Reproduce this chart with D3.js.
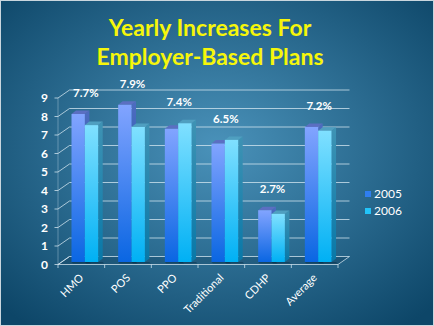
<!DOCTYPE html>
<html>
<head>
<meta charset="utf-8">
<script src="https://cdn.jsdelivr.net/npm/d3@7"></script>
<style>
  html, body { margin: 0; padding: 0; background: #0f4a6c; }
  svg { display: block; }
</style>
</head>
<body>
<svg id="chart"></svg>
<script>
// chart data
const categories = ["HMO", "POS", "PPO", "Traditional", "CDHP", "Average"];
const series = ["2005", "2006"];
const values2005 = [8.0, 8.5, 7.2, 6.4, 2.8, 7.3];
const values2006 = [7.4, 7.3, 7.5, 6.6, 2.6, 7.1];
const labelValues = [7.7, 7.9, 7.4, 6.5, 2.7, 7.2];
const yTicks = [0, 1, 2, 3, 4, 5, 6, 7, 8, 9];
const titleLines = ["Yearly Increases For", "Employer-Based Plans"];

const W = 434, H = 326;
const svg = d3.select("#chart").attr("width", W).attr("height", H);

// front plane of the box, and the depth shift to the back wall
const frontX = 58, frontY0 = 264.5, plotW = 280, plotH = 166.5;
const depthX = 11.5, depthY = -8;

let x = d3.scaleBand().domain(categories).range([0, plotW]);
let xs = d3.scaleBand().domain(series).range([10, 36.7]);
let y = d3.scaleLinear().domain([0, 9]).range([0, plotH]);

const defs = svg.append("defs");

let bg = defs.append("radialGradient").attr("id", "bg")
  .attr("cx", "50%").attr("cy", "45%").attr("r", "70%");
bg.append("stop").attr("offset", "0%").attr("stop-color", "#4a92ba");
bg.append("stop").attr("offset", "100%").attr("stop-color", "#0d4668");

function linGrad(id, top, bottom) {
  let g = defs.append("linearGradient").attr("id", id)
    .attr("x1", 0).attr("y1", 0).attr("x2", 0).attr("y2", 1);
  g.append("stop").attr("offset", "0%").attr("stop-color", top);
  g.append("stop").attr("offset", "100%").attr("stop-color", bottom);
}
linGrad("front2005", "#82a4ff", "#0a66e2");
linGrad("front2006", "#80e0ff", "#00b0f4");
linGrad("side2005", "#4e6cc0", "#0a4fa8");
linGrad("side2006", "#3f93b4", "#0878a8");

svg.append("rect").attr("width", W).attr("height", H).attr("fill", "url(#bg)");
svg.append("rect").attr("x", 0.5).attr("y", 0.5).attr("width", W - 1).attr("height", H - 1)
  .attr("fill", "none").attr("stroke", "#c9d6de").attr("stroke-width", 1);

// title
svg.append("g").selectAll("text").data(titleLines).join("text")
  .attr("x", 210).attr("y", (d, i) => 36 + i * 29)
  .attr("text-anchor", "middle")
  .attr("font-family", "Lato, 'Open Sans', sans-serif")
  .attr("font-weight", 700).attr("font-size", 23)
  .attr("fill", "#f6f60a")
  .text(d => d);

const gridColor = "rgba(215,232,242,0.75)";

// floor
let floorPts = [
  [frontX, frontY0], [frontX + plotW, frontY0],
  [frontX + plotW + depthX, frontY0 + depthY], [frontX + depthX, frontY0 + depthY]
];
svg.append("path").attr("d", d3.line()(floorPts) + "Z")
  .attr("fill", "rgba(10,50,80,0.25)").attr("stroke", gridColor).attr("stroke-width", 1);

// back wall gridlines + left wall slants
let grid = svg.append("g");
grid.selectAll("line.back").data(yTicks.filter(d => d > 0)).join("line")
  .attr("class", "back")
  .attr("x1", frontX + depthX).attr("x2", frontX + depthX + plotW)
  .attr("y1", d => frontY0 + depthY - y(d)).attr("y2", d => frontY0 + depthY - y(d))
  .attr("stroke", gridColor).attr("stroke-width", 1);
grid.selectAll("line.side").data(yTicks).join("line")
  .attr("class", "side")
  .attr("x1", frontX).attr("x2", frontX + depthX)
  .attr("y1", d => frontY0 - y(d)).attr("y2", d => frontY0 + depthY - y(d))
  .attr("stroke", gridColor).attr("stroke-width", 1);
grid.selectAll("line.tick").data(yTicks).join("line")
  .attr("class", "tick")
  .attr("x1", frontX - 3.5).attr("x2", frontX)
  .attr("y1", d => frontY0 - y(d)).attr("y2", d => frontY0 - y(d))
  .attr("stroke", gridColor).attr("stroke-width", 1);
grid.append("line")
  .attr("x1", frontX).attr("x2", frontX).attr("y1", frontY0).attr("y2", frontY0 - y(9))
  .attr("stroke", "rgba(215,232,242,0.35)").attr("stroke-width", 1);
// x ticks on the front floor edge
grid.selectAll("line.xtick").data(d3.range(categories.length + 1)).join("line")
  .attr("class", "xtick")
  .attr("x1", i => frontX + i * x.bandwidth()).attr("x2", i => frontX + i * x.bandwidth())
  .attr("y1", frontY0).attr("y2", frontY0 + 3.5)
  .attr("stroke", gridColor).attr("stroke-width", 1);

// y tick labels
svg.append("g").selectAll("text").data(yTicks).join("text")
  .attr("x", 48).attr("y", d => frontY0 - y(d) + 4)
  .attr("text-anchor", "end")
  .attr("font-family", "Lato, sans-serif").attr("font-weight", 700).attr("font-size", 12)
  .attr("fill", "#ffffff")
  .text(d => d);

// bars (drawn as boxes standing in the middle of the floor depth)
const barDX = 3.5, barDY = -2.5;    // front face offset from front plane
const sideDX = 4.5, sideDY = -3.5;  // box depth
let bars = [];
categories.forEach((c, i) => {
  bars.push({ cat: c, s: "2005", v: values2005[i] });
  bars.push({ cat: c, s: "2006", v: values2006[i] });
});

let barG = svg.append("g").selectAll("g").data(bars).join("g");
barG.each(function (d) {
  let g = d3.select(this);
  let x0 = frontX + barDX + x(d.cat) + xs(d.s);
  let w = xs.bandwidth();
  let yb = frontY0 + barDY;
  let yt = yb - y(d.v);
  let line = d3.line();
  // shadow on floor
  g.append("path")
    .attr("d", line([[x0, yb], [x0 + w + sideDX, yb], [x0 + w + sideDX + 1.5, yb + 1.5], [x0 + 1.5, yb + 1.5]]) + "Z")
    .attr("fill", "rgba(0,30,50,0.35)");
  g.append("path")
    .attr("d", line([[x0 + w, yt], [x0 + w + sideDX, yt + sideDY], [x0 + w + sideDX, yb + sideDY], [x0 + w, yb]]) + "Z")
    .attr("fill", "url(#side" + d.s + ")");
  g.append("path")
    .attr("d", line([[x0, yt], [x0 + w, yt], [x0 + w + sideDX, yt + sideDY], [x0 + sideDX, yt + sideDY]]) + "Z")
    .attr("fill", d.s == "2005" ? "#5b6fc2" : "#4f9fc0");
  g.append("rect")
    .attr("x", x0).attr("y", yt).attr("width", w).attr("height", yb - yt)
    .attr("fill", "url(#front" + d.s + ")");
});

// value labels above each pair
svg.append("g").selectAll("text").data(categories).join("text")
  .attr("x", c => frontX + barDX + x(c) + x.bandwidth() / 2 + 1)
  .attr("y", (c, i) => frontY0 + barDY - y(Math.max(values2005[i], values2006[i])) - 17)
  .attr("text-anchor", "middle")
  .attr("font-family", "Lato, sans-serif").attr("font-weight", 700).attr("font-size", 11.5)
  .attr("fill", "#ffffff")
  .text((c, i) => labelValues[i].toFixed(1) + "%");

// category labels, rotated
svg.append("g").selectAll("text").data(categories).join("text")
  .attr("transform", c => "translate(" + (frontX + x(c) + x.bandwidth() / 2 + 3) + "," + (frontY0 + 14) + ") rotate(-45)")
  .attr("text-anchor", "end")
  .attr("font-family", "Lato, sans-serif").attr("font-size", 11)
  .attr("fill", "#ffffff")
  .text(d => d);

// legend
let leg = svg.append("g").selectAll("g").data(series).join("g")
  .attr("transform", (d, i) => "translate(365," + (191 + i * 17) + ")");
leg.append("rect").attr("width", 6).attr("height", 6)
  .attr("fill", d => d == "2005" ? "#2f7ef0" : "#22c4fa");
leg.append("text").attr("x", 9).attr("y", 7)
  .attr("font-family", "Lato, sans-serif").attr("font-size", 12)
  .attr("fill", "#ffffff")
  .text(d => d);
</script>
</body>
</html>
